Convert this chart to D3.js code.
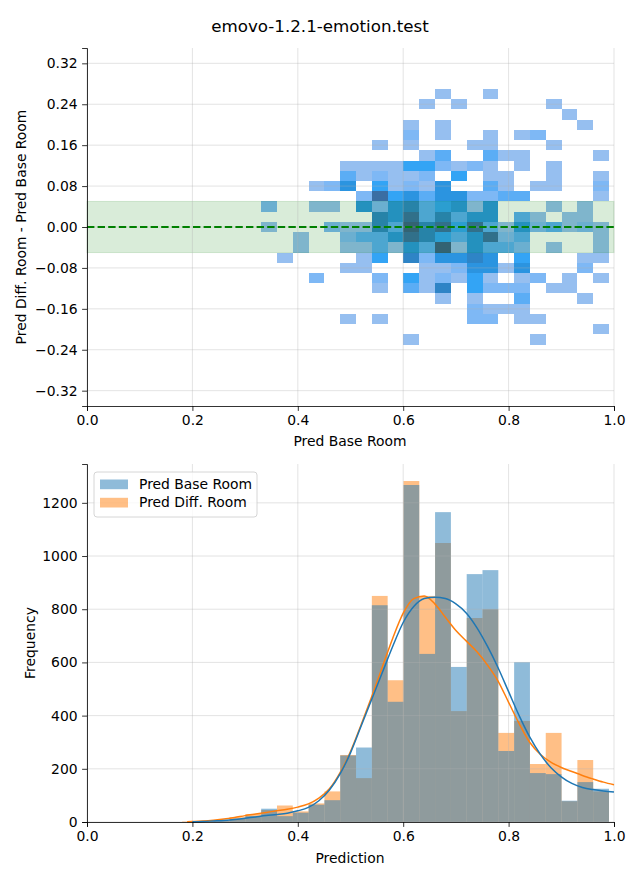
<!DOCTYPE html>
<html><head><meta charset="utf-8">
<script src="https://cdn.jsdelivr.net/npm/d3@7"></script>
<style>body{margin:0;background:#fff} svg text{font-family:"DejaVu Sans",sans-serif;fill:#000}</style>
</head><body><svg id="c" width="640" height="880"></svg>
<script>
// ---------------- DATA ----------------
const chartTitle = "emovo-1.2.1-emotion.test";
const topXLabel = "Pred Base Room";
const topYLabel = "Pred Diff. Room - Pred Base Room";
const botXLabel = "Prediction";
const botYLabel = "Frequency";
const seriesNames = ["Pred Base Room", "Pred Diff. Room"];

const xTicks = [0, 0.2, 0.4, 0.6, 0.8, 1.0];
const topYTicks = [-0.32, -0.24, -0.16, -0.08, 0, 0.08, 0.16, 0.24, 0.32];
const botYTicks = [0, 200, 400, 600, 800, 1000, 1200];

// 2D histogram bin edges
const heatXEdges = [0.3305,0.3605,0.3905,0.4205,0.4505,0.4805,0.5105,0.5405,0.5705,0.6005,0.6305,0.6605,0.6905,0.7205,0.7505,0.7805,0.8105,0.8405,0.8705,0.9005,0.9305,0.9605,0.9905];
const heatYEdges = [0.27,0.25,0.23,0.21,0.19,0.17,0.15,0.13,0.11,0.09,0.07,0.05,0.03,0.01,-0.01,-0.03,-0.05,-0.07,-0.09,-0.11,-0.13,-0.15,-0.17,-0.19,-0.21,-0.23];
// counts: one row per y bin (top to bottom), one column per x bin
const heatCounts = [
 [0,0,0,0,0,0,0,0,0,0,0,1,0,0,1,0,0,0,0,0,0,0],
 [0,0,0,0,0,0,0,0,0,0,1,0,1,0,0,0,0,0,1,0,0,0],
 [0,0,0,0,0,0,0,0,0,0,0,0,0,0,0,0,0,0,0,1,0,0],
 [0,0,0,0,0,0,0,0,0,1,0,1,0,0,0,0,0,0,0,0,1,0],
 [0,0,0,0,0,0,0,0,0,2,0,1,0,0,1,0,1,2,0,0,0,0],
 [0,0,0,0,0,0,0,1,0,1,0,0,0,1,1,0,0,0,1,0,0,0],
 [0,0,0,0,0,0,0,0,0,0,1,3,0,0,3,1,1,0,0,0,0,1],
 [0,0,0,0,0,1,1,1,1,4,4,2,1,2,1,0,1,0,1,0,0,0],
 [0,0,0,0,0,3,1,2,1,1,2,0,4,0,1,1,0,0,1,0,0,1],
 [0,0,0,1,2,5,0,4,1,2,1,5,0,0,3,1,0,1,1,0,0,2],
 [0,0,0,0,0,0,2,7,4,5,3,5,5,2,2,3,3,0,0,0,0,1],
 [2,0,0,1,1,0,5,2,5,6,3,4,5,1,5,0,0,0,1,0,1,0],
 [0,0,0,0,0,0,0,6,5,7,3,6,3,5,5,0,3,1,0,1,1,0],
 [1,0,0,0,2,1,1,6,3,8,6,7,4,7,3,1,5,2,3,1,2,1],
 [0,0,1,0,0,2,3,3,5,7,6,4,3,5,7,2,3,0,0,0,0,1],
 [0,0,1,0,0,1,1,3,1,5,3,8,1,5,3,3,2,0,1,0,0,1],
 [0,1,0,0,0,0,1,4,0,6,2,5,5,6,5,0,4,0,0,0,1,1],
 [0,0,0,0,0,1,1,0,0,0,1,1,2,5,5,1,5,0,0,0,2,0],
 [0,0,0,2,0,0,0,2,0,4,1,2,1,4,1,0,1,2,0,1,0,1],
 [0,0,0,0,0,0,0,1,0,3,1,6,0,4,2,2,2,0,1,1,0,0],
 [0,0,0,0,0,0,0,0,0,0,0,1,0,1,0,0,3,0,0,0,1,0],
 [0,0,0,0,0,0,0,0,0,0,0,0,0,2,1,1,1,0,0,0,0,0],
 [0,0,0,0,0,1,0,1,0,0,0,0,0,2,2,0,1,1,0,0,0,0],
 [0,0,0,0,0,0,0,0,0,0,0,0,0,0,0,0,0,0,0,0,0,1],
 [0,0,0,0,0,0,0,0,0,1,0,0,0,0,0,0,0,1,0,0,0,0]
];
const bandHalfWidth = 0.05;

// 1D histogram
const histEdges = [0.1805,0.2105,0.2405,0.2705,0.3005,0.3305,0.3605,0.3905,0.4205,0.4505,0.4805,0.5105,0.5405,0.5705,0.6005,0.6305,0.6605,0.6905,0.7205,0.7505,0.7805,0.8105,0.8405,0.8705,0.9005,0.9305,0.9605,0.9905];
const baseCounts = [0,2,4,12,22,50,22,35,65,82,250,280,815,452,1267,632,1165,583,932,947,267,601,184,180,80,150,125];
const diffCounts = [2,3,6,18,30,45,62,40,70,115,252,165,850,533,1282,850,1049,417,767,800,335,380,218,335,78,233,115];

// KDE curves (scaled to counts)
const kdeBaseX = [0.20,0.22,0.24,0.26,0.28,0.30,0.32,0.34,0.36,0.38,0.40,0.42,0.44,0.46,0.48,0.50,0.52,0.54,0.56,0.58,0.60,0.62,0.64,0.66,0.68,0.70,0.72,0.74,0.76,0.78,0.80,0.82,0.84,0.86,0.88,0.90,0.92,0.94,0.96,0.98,1.00];
const kdeBaseY = [1,2,4,6,9,14,19,24,28,33,42,55,80,120,180,260,360,460,560,660,750,810,840,845,840,820,785,730,660,580,490,400,320,255,205,170,145,130,122,117,113];
const kdeDiffX = [0.19,0.20,0.22,0.24,0.26,0.28,0.30,0.32,0.34,0.36,0.38,0.40,0.42,0.44,0.46,0.48,0.50,0.52,0.54,0.56,0.58,0.60,0.62,0.64,0.66,0.68,0.70,0.72,0.74,0.76,0.78,0.80,0.82,0.84,0.86,0.88,0.90,0.92,0.94,0.96,0.98,1.00];
const kdeDiffY = [0.5,2,4,7,11,17,24,30,36,42,48,56,68,90,125,185,265,365,470,580,690,785,840,850,820,770,720,680,640,590,530,450,370,300,255,225,205,190,175,162,150,140];

// ---------------- DRAW ----------------
const svg = d3.select("#c");
const F = 13.9;
const gridCol = "#b0b0b0", gridOp = 0.45;

svg.append("text").attr("x", 320).attr("y", 32).attr("text-anchor", "middle")
  .style("font-size", "16.7px").text(chartTitle);

function drawAxes(g, x, y, yTicks, yFmt, x0, x1, y0, y1) {
  // grid
  const grid = g.append("g");
  xTicks.forEach(t => grid.append("line").attr("x1", x(t)).attr("x2", x(t)).attr("y1", y0).attr("y2", y1)
    .attr("stroke", gridCol).attr("stroke-opacity", gridOp).attr("stroke-width", 0.8));
  yTicks.forEach(t => grid.append("line").attr("x1", x0).attr("x2", x1).attr("y1", y(t)).attr("y2", y(t))
    .attr("stroke", gridCol).attr("stroke-opacity", gridOp).attr("stroke-width", 0.8));
  return grid;
}
function drawSpines(g, x, y, yTicks, yFmt, y0) {
  const ax = g.append("g").attr("transform", `translate(0,${y0})`)
    .call(d3.axisBottom(x).tickValues(xTicks).tickFormat(d3.format(".1f")).tickSizeOuter(0).tickSize(4.9).tickPadding(4.5));
  const ay = g.append("g").attr("transform", `translate(${x(0)},0)`)
    .call(d3.axisLeft(y).tickValues(yTicks).tickFormat(yFmt).tickSizeOuter(0).tickSize(4.9).tickPadding(4.5));
  [ax, ay].forEach(a => {
    a.selectAll("text").style("font-size", F + "px").style("font-family", '"DejaVu Sans",sans-serif');
    a.selectAll("line").attr("stroke-width", 0.8);
    a.select(".domain").attr("stroke-width", 0.8);
  });
}

// ---------- TOP: 2D histogram ----------
const xT = d3.scaleLinear([0, 1], [87, 614]);
const yT = d3.scaleLinear([-0.35, 0.35], [406, 48]);
const gT = svg.append("g");
const levelColors = ["#96bff0","#7eb8f5","#5badf5","#33a4f5","#2b94e0","#2e84c6","#3a6ea3","#3d5f88"];
const maxC = d3.max(heatCounts.flat());
const color = d3.scaleLinear().domain(d3.range(1, maxC + 1)).range(levelColors).clamp(true);

const cells = [];
heatCounts.forEach((row, j) => row.forEach((c, k) => {
  if (c > 0) cells.push({x0: heatXEdges[k], x1: heatXEdges[k + 1], yTop: heatYEdges[j], yBot: heatYEdges[j + 1], c});
}));
gT.append("g").selectAll("rect").data(cells).join("rect")
  .attr("x", d => xT(d.x0)).attr("width", d => xT(d.x1) - xT(d.x0))
  .attr("y", d => yT(d.yTop)).attr("height", d => yT(d.yBot) - yT(d.yTop))
  .attr("fill", d => color(d.c)).attr("shape-rendering", "crispEdges");

// band
gT.append("rect").attr("x", xT(0)).attr("width", xT(1) - xT(0))
  .attr("y", yT(bandHalfWidth)).attr("height", yT(-bandHalfWidth) - yT(bandHalfWidth))
  .attr("fill", "green").attr("fill-opacity", 0.15).attr("stroke", "green").attr("stroke-opacity", 0.15);

drawAxes(gT, xT, yT, topYTicks, null, 87, 614, 48, 406);

gT.append("line").attr("x1", xT(0)).attr("x2", xT(1)).attr("y1", yT(0)).attr("y2", yT(0))
  .attr("stroke", "green").attr("stroke-width", 2).attr("stroke-dasharray", "7.4,3.2");

drawSpines(gT, xT, yT, topYTicks, d => d3.format(".2f")(d).replace("-", "\u2212"), 406);
svg.append("text").attr("x", 350).attr("y", 446).attr("text-anchor", "middle").style("font-size", F + "px").text(topXLabel);
svg.append("text").attr("transform", "translate(26,227) rotate(-90)").attr("text-anchor", "middle").style("font-size", F + "px").text(topYLabel);

// ---------- BOTTOM: histograms ----------
const xB = d3.scaleLinear([0, 1], [87, 614]);
const yB = d3.scaleLinear([0, 1346], [822, 464]);
const gB = svg.append("g");
const blue = "#1f77b4", orange = "#ff7f0e";

function bars(counts, col) {
  gB.append("g").selectAll("rect").data(counts.map((c, i) => ({x0: histEdges[i], x1: histEdges[i + 1], c})).filter(d => d.c > 0))
    .join("rect")
    .attr("x", d => xB(d.x0)).attr("width", d => xB(d.x1) - xB(d.x0))
    .attr("y", d => yB(d.c)).attr("height", d => yB(0) - yB(d.c))
    .attr("fill", col).attr("fill-opacity", 0.5);
}
bars(diffCounts, orange);
bars(baseCounts, blue);

drawAxes(gB, xB, yB, botYTicks, null, 87, 614, 464, 822);

const line = d3.line().x(d => xB(d[0])).y(d => yB(d[1])).curve(d3.curveMonotoneX);
gB.append("path").attr("d", line(kdeDiffX.map((v, i) => [v, kdeDiffY[i]]))).attr("fill", "none").attr("stroke", orange).attr("stroke-width", 1.5);
gB.append("path").attr("d", line(kdeBaseX.map((v, i) => [v, kdeBaseY[i]]))).attr("fill", "none").attr("stroke", blue).attr("stroke-width", 1.5);

drawSpines(gB, xB, yB, botYTicks, d3.format("d"), 822);
svg.append("text").attr("x", 350).attr("y", 863).attr("text-anchor", "middle").style("font-size", F + "px").text(botXLabel);
svg.append("text").attr("transform", "translate(35,643) rotate(-90)").attr("text-anchor", "middle").style("font-size", F + "px").text(botYLabel);

// legend
const lg = svg.append("g");
lg.append("rect").attr("x", 94).attr("y", 472).attr("width", 163).attr("height", 45).attr("rx", 3)
  .attr("fill", "white").attr("fill-opacity", 0.8).attr("stroke", "#cccccc").attr("stroke-width", 0.8);
[[blue, seriesNames[0], 479.5], [orange, seriesNames[1], 497.8]].forEach(([c, t, yy]) => {
  lg.append("rect").attr("x", 100).attr("y", yy).attr("width", 28).attr("height", 9.7).attr("fill", c).attr("fill-opacity", 0.5);
  lg.append("text").attr("x", 139).attr("y", yy + 9.6).style("font-size", F + "px").text(t);
});
</script></body></html>
